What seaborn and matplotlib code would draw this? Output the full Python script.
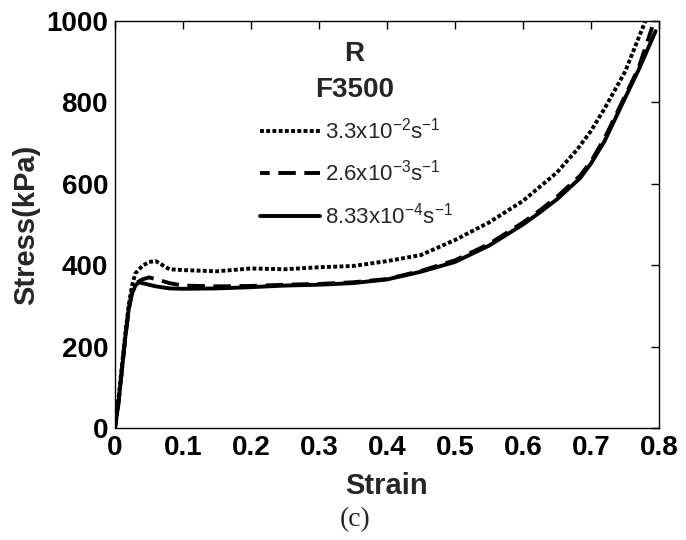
import matplotlib
matplotlib.use("Agg")
import matplotlib.pyplot as plt
import seaborn as sns
import pandas as pd

# ---- data ----
strain_fast = [0, 0.005, 0.01, 0.015, 0.02, 0.025, 0.03, 0.04, 0.05, 0.06, 0.07, 0.08,
               0.1, 0.15, 0.2, 0.25, 0.3, 0.35, 0.4, 0.45, 0.5, 0.55, 0.6, 0.65, 0.68,
               0.7, 0.72, 0.75, 0.78]
stress_fast = [0, 70, 150, 230, 300, 350, 380, 398, 408, 410, 400, 390,
               388, 385, 392, 390, 395, 398, 410, 425, 462, 505, 558, 628, 685,
               730, 785, 875, 1000]

strain_mid = [0, 0.005, 0.01, 0.015, 0.02, 0.025, 0.03, 0.04, 0.05, 0.06, 0.08,
              0.1, 0.15, 0.2, 0.25, 0.3, 0.35, 0.4, 0.45, 0.5, 0.55, 0.6, 0.625,
              0.65, 0.684, 0.7, 0.72, 0.747, 0.77, 0.79]
stress_mid = [0, 60, 140, 220, 290, 335, 355, 365, 370, 366, 356,
              350, 348, 349, 352, 354, 358, 366, 386, 412, 452, 505, 535,
              568, 620, 655, 712, 805, 885, 985]

strain_slow = [0, 0.005, 0.01, 0.015, 0.02, 0.025, 0.03, 0.035, 0.04, 0.06, 0.08,
               0.1, 0.15, 0.2, 0.25, 0.3, 0.35, 0.4, 0.45, 0.5, 0.55, 0.6, 0.625,
               0.65, 0.684, 0.7, 0.72, 0.747, 0.77, 0.795]
stress_slow = [0, 60, 140, 220, 290, 330, 350, 358, 356, 348, 343,
               342, 343, 346, 350, 352, 356, 365, 384, 408, 448, 500, 530,
               562, 614, 650, 705, 800, 880, 975]

labels = [r"3.3x10$^{\mathregular{-2}}$s$^{\mathregular{-1}}$",
          r"2.6x10$^{\mathregular{-3}}$s$^{\mathregular{-1}}$",
          r"8.33x10$^{\mathregular{-4}}$s$^{\mathregular{-1}}$"]

x_ticks = [0, 0.1, 0.2, 0.3, 0.4, 0.5, 0.6, 0.7, 0.8]
x_tick_labels = ["0", "0.1", "0.2", "0.3", "0.4", "0.5", "0.6", "0.7", "0.8"]
y_ticks = [0, 200, 400, 600, 800, 1000]

sns.set_theme(style="white")
plt.rcParams["font.family"] = ["Liberation Sans", "DejaVu Sans"]
plt.rcParams["mathtext.fontset"] = "custom"
plt.rcParams["mathtext.rm"] = "Liberation Sans"
plt.rcParams["mathtext.it"] = "Liberation Sans"
plt.rcParams["mathtext.default"] = "regular"

fig = plt.figure(figsize=(6.86, 5.40), dpi=100)
ax = fig.add_axes([115 / 686, 1 - 428 / 540, 544 / 686, 407 / 540])

series = [
    (strain_fast, stress_fast, (0, (1.0, 0.6))),
    (strain_mid, stress_mid, (2, (4.5, 2.2))),
    (strain_slow, stress_slow, "-"),
]
for (xs, ys, ls), lab in zip(series, labels):
    df = pd.DataFrame({"Strain": xs, "Stress": ys})
    sns.lineplot(data=df, x="Strain", y="Stress", ax=ax, color="black",
                 linewidth=2.8, linestyle=ls, label=lab, sort=False,
                 estimator=None)

ax.set_xlim(0, 0.8)
ax.set_ylim(0, 1000)
ax.set_xticks(x_ticks)
ax.set_xticklabels(x_tick_labels)
ax.set_yticks(y_ticks)
ax.tick_params(direction="in", length=6, width=1, top=True, right=True,
               labelsize=20, pad=5, colors="black")
for lab in ax.get_xticklabels() + ax.get_yticklabels():
    lab.set_fontweight("bold")
for s in ax.spines.values():
    s.set_color("black")
    s.set_linewidth(1.0)

ax.set_xlabel("Strain", fontsize=21, fontweight="bold", labelpad=8)
ax.set_ylabel("Stress(kPa)", fontsize=21, fontweight="bold", labelpad=4)

ax.text(0.44, 0.92, "R", transform=ax.transAxes, ha="center", va="center",
        fontsize=20, fontweight="bold")
ax.text(0.44, 0.83, "F3500", transform=ax.transAxes, ha="center", va="center",
        fontsize=20, fontweight="bold")

leg = ax.legend(loc="upper left", bbox_to_anchor=(0.25, 0.785), frameon=False,
                fontsize=16, handlelength=2.7, handletextpad=0.25,
                labelspacing=0.75, borderaxespad=0)

fig.text(355 / 686, 1 - 520 / 540, "(c)", ha="center", va="center",
         fontsize=20, family=["Liberation Serif"])

fig.savefig("out.png", dpi=100)
